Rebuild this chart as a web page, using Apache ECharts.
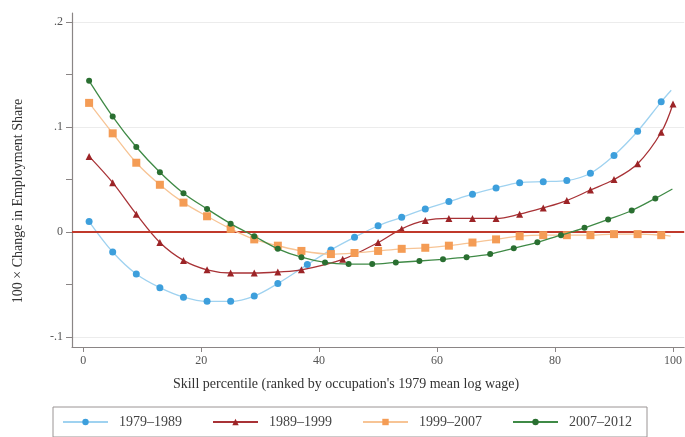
<!DOCTYPE html>
<html><head><meta charset="utf-8">
<script src="https://cdn.jsdelivr.net/npm/echarts@6/dist/echarts.min.js"></script>
<style>html,body{margin:0;padding:0;background:#fff}#c{width:685px;height:437px}</style>
</head><body><div id="c"></div>
<script>
// Axis ticks / labels
const xTicks = [0, 20, 40, 60, 80, 100];
const yTicks = [-0.1, -0.05, 0, 0.05, 0.1, 0.15, 0.2];
const yLabelVals = [-0.1, 0, 0.1, 0.2];
const yGridVals = [-0.1, 0, 0.1, 0.2];
const seriesNames = ['1979–1989', '1989–1999', '1999–2007', '2007–2012'];
const xTitle = "Skill percentile (ranked by occupation's 1979 mean log wage)";
const yTitle = '100 × Change in Employment Share';

// 1979–1989
const x7989 = [1,5,9,13,17,21,25,29,33,38,42,46,50,54,58,62,66,70,74,78,82,86,90,94,98];
const y7989 = [0.010,-0.019,-0.040,-0.053,-0.062,-0.066,-0.066,-0.061,-0.049,-0.031,-0.017,-0.005,0.006,0.014,0.022,0.029,0.036,0.042,0.047,0.048,0.049,0.056,0.073,0.096,0.124];
const end7989 = [99.7, 0.135];
// 1989–1999
const x8999 = [1,5,9,13,17,21,25,29,33,37,44,50,54,58,62,66,70,74,78,82,86,90,94,98,100];
const y8999 = [0.072,0.047,0.017,-0.010,-0.027,-0.036,-0.039,-0.039,-0.038,-0.036,-0.026,-0.010,0.003,0.011,0.013,0.013,0.013,0.017,0.023,0.030,0.040,0.050,0.065,0.095,0.122];
const end8999 = null;
// 1999–2007
const x9907 = [1,5,9,13,17,21,25,29,33,37,42,46,50,54,58,62,66,70,74,78,82,86,90,94,98];
const y9907 = [0.123,0.094,0.066,0.045,0.028,0.015,0.003,-0.007,-0.013,-0.018,-0.021,-0.020,-0.018,-0.016,-0.015,-0.013,-0.010,-0.007,-0.004,-0.003,-0.003,-0.003,-0.002,-0.002,-0.003];
const end9907 = [99.6, -0.004];
// 2007–2012
const x0712 = [1,5,9,13,17,21,25,29,33,37,41,45,49,53,57,61,65,69,73,77,81,85,89,93,97];
const y0712 = [0.144,0.110,0.081,0.057,0.037,0.022,0.008,-0.004,-0.016,-0.024,-0.029,-0.0305,-0.0305,-0.029,-0.0276,-0.026,-0.024,-0.021,-0.0155,-0.0098,-0.003,0.004,0.012,0.0205,0.032];
const end0712 = [99.9, 0.041];

const FONT = '"Liberation Serif", "DejaVu Serif", serif';

function buildData(xs, ys, end) {
  const d = xs.map((x, i) => [x, ys[i]]);
  if (end) d.push({ value: end, symbol: 'none' });
  return d;
}

const styles = [
  { line: '#9fd2f0', marker: '#3d9fdc', symbol: 'circle', size: 7 },
  { line: '#a83236', marker: '#9c2427', symbol: 'triangle', size: 7 },
  { line: '#f7c495', marker: '#f49c55', symbol: 'rect', size: 8 },
  { line: '#3f8a46', marker: '#2a6f31', symbol: 'circle', size: 6 }
];
const datasets = [
  buildData(x7989, y7989, end7989),
  buildData(x8999, y8999, end8999),
  buildData(x9907, y9907, end9907),
  buildData(x0712, y0712, end0712)
];

const series = [{
  type: 'line', data: [], silent: true, z: 1,
  markLine: {
    silent: true, symbol: 'none', label: { show: false },
    lineStyle: { color: '#c0392b', width: 2, type: 'solid' },
    data: [{ yAxis: 0 }]
  }
}];
seriesNames.forEach((n, i) => {
  const s = styles[i];
  series.push({
    name: n, type: 'line', smooth: 0.35, data: datasets[i], z: 3 + i,
    symbol: s.symbol, symbolSize: s.size, showAllSymbol: true,
    lineStyle: { color: s.line, width: 1.3 },
    itemStyle: { color: s.marker, borderWidth: 0 }
  });
});

const chart = echarts.init(document.getElementById('c'), null, { renderer: 'canvas' });
chart.setOption({
  animation: false,
  backgroundColor: '#fff',
  grid: { left: 72, right: 0, top: 13, bottom: 90, containLabel: false },
  xAxis: {
    type: 'value', min: -1.9, max: 101.9,
    axisLine: { show: true, onZero: false, lineStyle: { color: '#8a8585', width: 1.2 } },
    axisTick: { show: true, customValues: xTicks, length: 5, lineStyle: { color: '#8a8585' } },
    axisLabel: { customValues: xTicks, color: '#555', fontFamily: FONT, fontSize: 12, margin: 8 },
    splitLine: { show: false }
  },
  yAxis: [{
    type: 'value', min: -0.1095, max: 0.2086,
    axisLine: { show: true, onZero: false, lineStyle: { color: '#8a8585', width: 1.2 } },
    axisTick: { show: true, customValues: yTicks, length: 6, lineStyle: { color: '#8a8585' } },
    axisLabel: {
      customValues: yLabelVals, color: '#555', fontFamily: FONT, fontSize: 12, margin: 9,
      formatter: v => Math.abs(v) < 1e-9 ? '0' : v.toFixed(1).replace('0.', '.')
    },
    splitLine: { show: false }
  }, {
    type: 'value', min: -0.1095, max: 0.2086, position: 'left',
    axisLine: { show: false, onZero: false }, axisLabel: { show: false },
    axisTick: { show: false, customValues: yGridVals },
    splitLine: { show: true, lineStyle: { color: '#ececec', width: 1 } }
  }],
  legend: {
    data: seriesNames, left: 53, top: 407, orient: 'horizontal',
    borderColor: '#9a9494', borderWidth: 1, borderRadius: 0,
    padding: [8, 15, 8, 9], itemWidth: 45, itemHeight: 8, itemGap: 30,
    textStyle: { fontFamily: FONT, fontSize: 14, color: '#444', padding: [0, 0, 0, 6] }
  },
  graphic: [
    { type: 'text', x: 346, y: 384, silent: true,
      style: { text: xTitle, font: '14px ' + FONT, fill: '#333', textAlign: 'center', textVerticalAlign: 'middle' } },
    { type: 'text', x: 18, y: 201, rotation: Math.PI / 2, silent: true,
      style: { text: yTitle, font: '14px ' + FONT, fill: '#333', textAlign: 'center', textVerticalAlign: 'middle' } }
  ],
  series: series
});
</script>
</body></html>
